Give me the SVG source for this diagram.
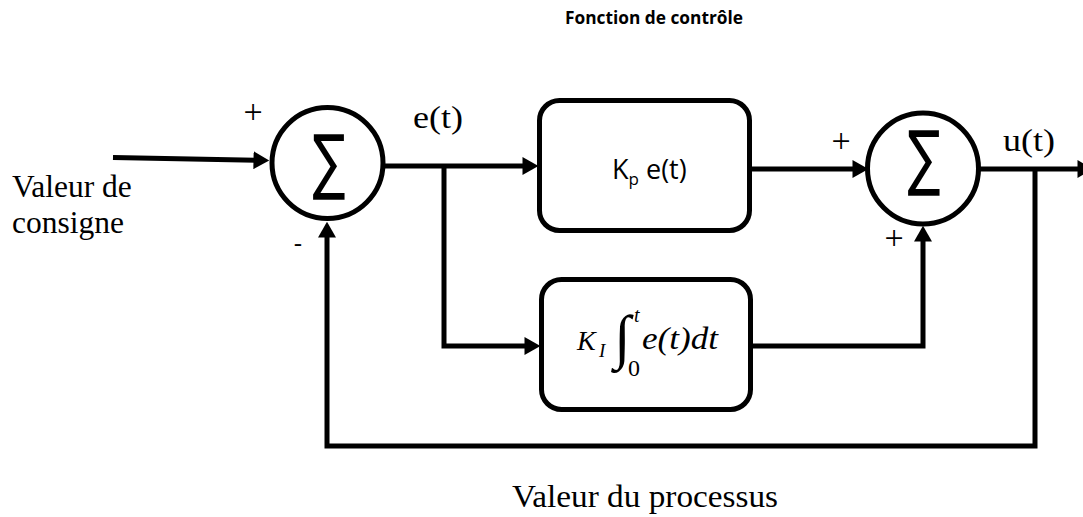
<svg xmlns="http://www.w3.org/2000/svg" width="1083" height="517" viewBox="0 0 1083 517">
<defs>
<style>
.ln{fill:none;stroke:#000;stroke-width:5;}
.sh{fill:#fff;stroke:#000;stroke-width:5;}
.tm{font-family:"Liberation Serif","Times New Roman",serif;fill:#000;}
.sn{font-family:"Open Sans","Liberation Sans",sans-serif;fill:#000;}
.sg{font-family:"DejaVu Sans",sans-serif;fill:#000;}
</style>
<marker id="ah" markerUnits="userSpaceOnUse" markerWidth="16" markerHeight="18" viewBox="0 0 14 16" refX="4" refY="8" orient="auto">
<path d="M0,0 L14,8 L0,16 z" fill="#000"/>
</marker>
</defs>
<rect width="1083" height="517" fill="#fff"/>

<text class="sn" x="654" y="24" font-size="17" font-weight="bold" text-anchor="middle" textLength="178" lengthAdjust="spacingAndGlyphs">Fonction de contrôle</text>

<g id="connectors">
<line class="ln" x1="113" y1="157.5" x2="258" y2="160.3" marker-end="url(#ah)"/>
<polyline class="ln" points="384,166 527,166" marker-end="url(#ah)"/>
<polyline class="ln" points="444,166 444,346 529,346" marker-end="url(#ah)"/>
<polyline class="ln" points="752,169 857,169" marker-end="url(#ah)"/>
<polyline class="ln" points="753,346 923,346 923,237" marker-end="url(#ah)"/>
<polyline class="ln" points="979,169 1082,169" marker-end="url(#ah)"/>
<polyline class="ln" points="1035,169 1035,446 327,446 327,233" marker-end="url(#ah)"/>
</g>

<g id="sum1">
<circle class="sh" cx="327.5" cy="163" r="55.5"/>
<text class="sg" x="329" y="186" font-size="72" text-anchor="middle" textLength="33" lengthAdjust="spacingAndGlyphs">∑</text>
</g>

<g id="sum2">
<circle class="sh" cx="923" cy="168.5" r="55.5"/>
<text class="sg" x="924" y="182" font-size="72" text-anchor="middle" textLength="33" lengthAdjust="spacingAndGlyphs">∑</text>
</g>

<g id="kp">
<rect class="sh" x="539.5" y="100.5" width="210" height="130" rx="20"/>
<text class="sn" x="612" y="179" font-size="27">K<tspan font-size="17" dy="6">p</tspan><tspan dy="-6"> e(t)</tspan></text>
</g>

<g id="ki">
<rect class="sh" x="541.5" y="279.5" width="209" height="130" rx="20"/>
<text class="tm" x="577" y="350" font-size="28" font-style="italic">K</text>
<text class="tm" x="599" y="357" font-size="19" font-style="italic">I</text>
<text class="tm" x="614" y="357" font-size="60">∫</text>
<text class="tm" x="634" y="322" font-size="20" font-style="italic">t</text>
<text class="tm" x="628" y="376" font-size="24">0</text>
<text class="tm" x="642" y="349" font-size="31" font-style="italic" textLength="76" lengthAdjust="spacingAndGlyphs">e(t)dt</text>
</g>

<g id="labels">
<text class="tm" x="253" y="122.5" font-size="34" text-anchor="middle">+</text>
<text class="sn" x="298" y="252" font-size="26" text-anchor="middle">-</text>
<text class="tm" x="841" y="151.5" font-size="34" text-anchor="middle">+</text>
<text class="tm" x="894" y="249" font-size="34" text-anchor="middle">+</text>
<text class="tm" x="413" y="128" font-size="31" textLength="50" lengthAdjust="spacingAndGlyphs">e(t)</text>
<text class="tm" x="1003" y="151" font-size="31" textLength="52" lengthAdjust="spacingAndGlyphs">u(t)</text>
<text class="tm" x="12" y="197" font-size="31.5">Valeur de</text>
<text class="tm" x="12" y="233" font-size="31.5">consigne</text>
<text class="tm" x="512" y="507" font-size="32" textLength="266" lengthAdjust="spacingAndGlyphs">Valeur du processus</text>
</g>
</svg>
